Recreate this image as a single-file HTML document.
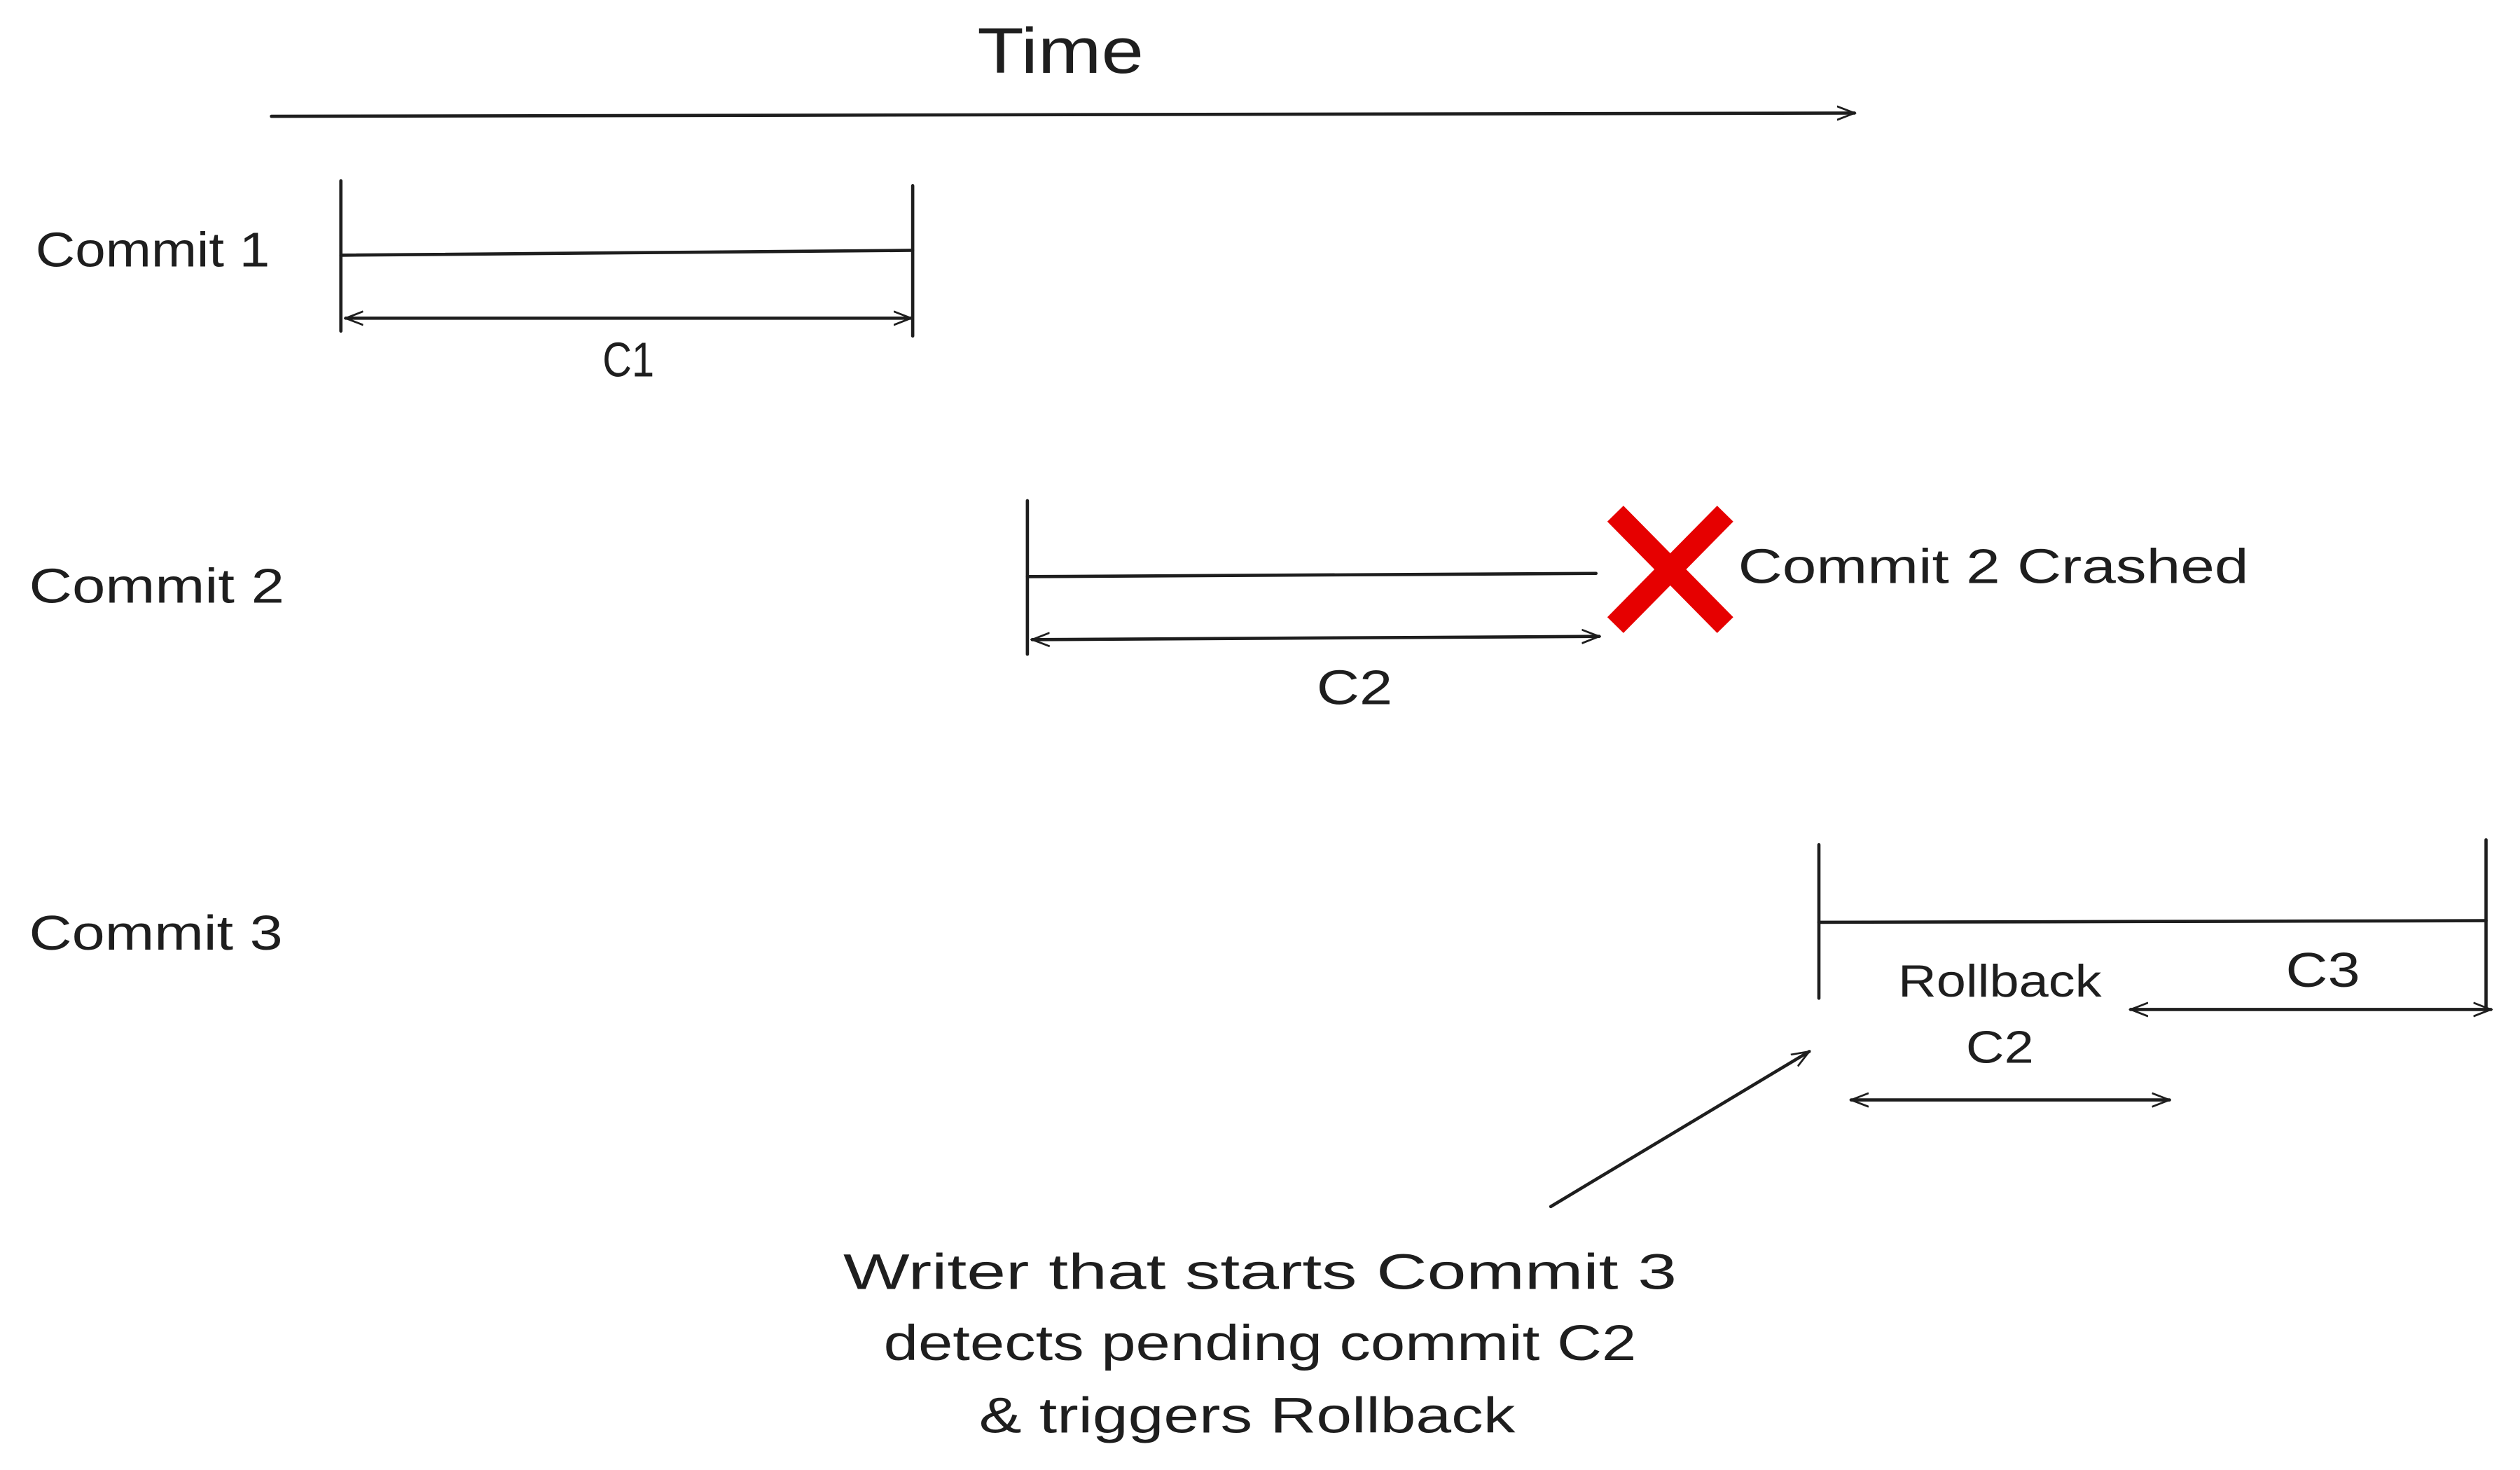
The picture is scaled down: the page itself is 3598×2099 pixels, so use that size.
<!DOCTYPE html>
<html><head><meta charset="utf-8"><style>
html,body{margin:0;padding:0;background:#fff;}
svg{display:block;}
text{font-family:"Liberation Sans",sans-serif;fill:#1e1e1e;}
</style></head><body>
<svg width="3598" height="2099" viewBox="0 0 1560 910.1" xmlns="http://www.w3.org/2000/svg">
<defs>
<marker id="a" viewBox="0 0 20 20" refX="18" refY="10" markerWidth="12" markerHeight="12" markerUnits="userSpaceOnUse" orient="auto-start-reverse">
<path d="M0,3 L18,10 L0,17" fill="none" stroke="#1e1e1e" stroke-width="2"/>
</marker>
</defs>
<g stroke="#1e1e1e" stroke-width="2" fill="none" stroke-linecap="round">
<line x1="168" y1="72" x2="1148" y2="70" marker-end="url(#a)"/>
<line x1="211" y1="112" x2="211" y2="205"/>
<line x1="565" y1="115" x2="565" y2="208"/>
<line x1="211" y1="158" x2="565" y2="155"/>
<line x1="214" y1="197" x2="564" y2="197" marker-start="url(#a)" marker-end="url(#a)"/>
<line x1="636" y1="310" x2="636" y2="405"/>
<line x1="636" y1="357" x2="988" y2="355"/>
<line x1="639" y1="396" x2="990" y2="394" marker-start="url(#a)" marker-end="url(#a)"/>
<line x1="1126" y1="523" x2="1126" y2="618"/>
<line x1="1539" y1="520" x2="1539" y2="625"/>
<line x1="1126" y1="571" x2="1539" y2="570"/>
<line x1="1319" y1="625" x2="1542" y2="625" marker-start="url(#a)" marker-end="url(#a)"/>
<line x1="1146" y1="681" x2="1343" y2="681" marker-start="url(#a)" marker-end="url(#a)"/>
<line x1="960" y1="747" x2="1120" y2="651" marker-end="url(#a)"/>
</g>
<g stroke="#e60000" stroke-width="14" stroke-linecap="butt">
<line x1="1000" y1="318" x2="1068" y2="387"/>
<line x1="1068" y1="318" x2="1000" y2="387"/>
</g>
<g lengthAdjust="spacingAndGlyphs">
<text x="605" y="45" font-size="40" textLength="103" lengthAdjust="spacingAndGlyphs">Time</text>
<text x="22" y="165" font-size="30" textLength="145" lengthAdjust="spacingAndGlyphs">Commit 1</text>
<text x="373" y="233" font-size="30" textLength="32" lengthAdjust="spacingAndGlyphs">C1</text>
<text x="18" y="373" font-size="30" textLength="158" lengthAdjust="spacingAndGlyphs">Commit 2</text>
<text x="815" y="436" font-size="30" textLength="47" lengthAdjust="spacingAndGlyphs">C2</text>
<text x="1076" y="361" font-size="30" textLength="316" lengthAdjust="spacingAndGlyphs">Commit 2 Crashed</text>
<text x="18" y="588" font-size="30" textLength="157" lengthAdjust="spacingAndGlyphs">Commit 3</text>
<text x="1175" y="617" font-size="28" textLength="126" lengthAdjust="spacingAndGlyphs">Rollback</text>
<text x="1217" y="658" font-size="28" textLength="42" lengthAdjust="spacingAndGlyphs">C2</text>
<text x="1415" y="611" font-size="30" textLength="46" lengthAdjust="spacingAndGlyphs">C3</text>
<text x="522" y="798" font-size="31" textLength="516" lengthAdjust="spacingAndGlyphs">Writer that starts Commit 3</text>
<text x="547" y="842" font-size="31" textLength="466" lengthAdjust="spacingAndGlyphs">detects pending commit C2</text>
<text x="606" y="887" font-size="31" textLength="332" lengthAdjust="spacingAndGlyphs">&amp; triggers Rollback</text>
</g>
</svg>
</body></html>
